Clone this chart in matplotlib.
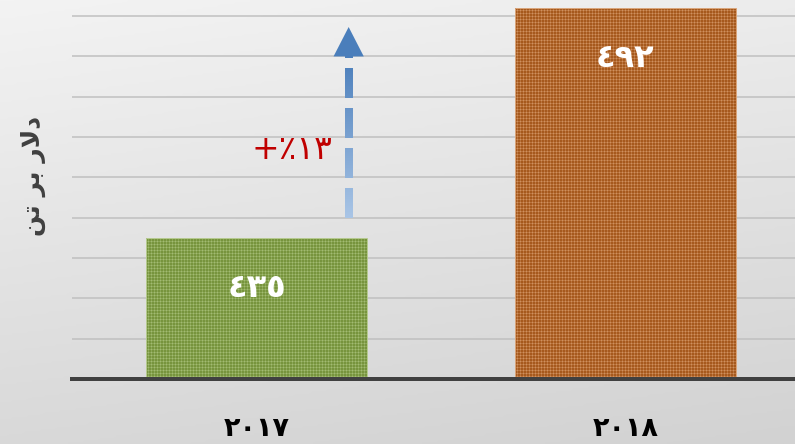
import numpy as np
import matplotlib
matplotlib.use("Agg")
import matplotlib.pyplot as plt
from matplotlib.path import Path
from matplotlib.patches import PathPatch, Polygon
from matplotlib.colors import LinearSegmentedColormap

plt.rcParams['font.family'] = ['DejaVu Sans']
plt.rcParams['hatch.linewidth'] = 0.5

years = [2017, 2018]
prices = [435, 492]
bar_colors = ['#77943d', '#a6591d']
dot_colors = ['#a2bb72', '#cf905e']
rim_colors = ['#b5c98f', '#d8a47a']
y_min, y_max, y_step = 400, 494, 10
arrow_from, arrow_to = 440, 487.3
arrow_x = 0.25

fa = str.maketrans('0123456789', '٠١٢٣٤٥٦٧٨٩')

def fa_num(v):
    return str(v).translate(fa)

# matplotlib does no arabic shaping, so the title is given shaped and in visual order
y_title = '\ufee6\ufe97 \ufeae\ufe91 \ufead\ufefb\ufea9'
growth = round((prices[1] - prices[0]) / prices[0] * 100)
growth_label = '+٪' + fa_num(growth)

fig = plt.figure(figsize=(795 / 72, 444 / 72), dpi=72)

# gray gradient background
bg = fig.add_axes([0, 0, 1, 1], zorder=-10)
gy, gx = np.mgrid[0:1:200j, 0:1:200j]
bg_cmap = LinearSegmentedColormap.from_list('bg', ['#f3f3f3', '#d2d2d2'])
bg.imshow(0.8 * gy + 0.2 * gx, cmap=bg_cmap, aspect='auto', extent=(0, 1, 0, 1))
bg.axis('off')

ax = fig.add_axes([72 / 795, 65 / 444, 1 - 72 / 795, 379 / 444])
ax.set_facecolor('none')
x = np.arange(len(years))
ax.bar(x, prices, width=0.6, color=bar_colors, edgecolor='none', zorder=2)
ax.bar(x, prices, width=0.6, color='none', edgecolor=dot_colors, hatch='++++',
       linewidth=0, zorder=3)
ax.bar(x, prices, width=0.6, color='none', edgecolor=rim_colors, linewidth=1, zorder=4)

for i, p in enumerate(prices):
    ax.text(i, p - 12.5, fa_num(p), ha='center', va='center', color='white',
            fontsize=32, fontweight='bold', zorder=6)

# dashed arrow with blue gradient
head_base = arrow_to - 7.3
shaft_w = 0.022
dash, gap = 7.4, 2.5
verts, codes = [], []
y0 = arrow_from
while y0 < head_base:
    y1 = min(y0 + dash, head_base)
    verts += [(arrow_x - shaft_w / 2, y0), (arrow_x + shaft_w / 2, y0),
              (arrow_x + shaft_w / 2, y1), (arrow_x - shaft_w / 2, y1), (0, 0)]
    codes += [Path.MOVETO, Path.LINETO, Path.LINETO, Path.LINETO, Path.CLOSEPOLY]
    y0 = y1 + gap
clip = PathPatch(Path(verts, codes), transform=ax.transData, facecolor='none',
                 edgecolor='none')
ax.add_patch(clip)
blue_cmap = LinearSegmentedColormap.from_list('blue', ['#a9c5e6', '#4a7ebb'])
im = ax.imshow(np.linspace(0, 1, 100).reshape(-1, 1), cmap=blue_cmap, origin='lower',
               aspect='auto', zorder=5,
               extent=(arrow_x - shaft_w, arrow_x + shaft_w, arrow_from, head_base))
im.set_clip_path(clip)
ax.add_patch(Polygon([(arrow_x - 0.041, head_base), (arrow_x + 0.041, head_base),
                      (arrow_x, arrow_to)], closed=True, facecolor='#4a7ebb',
                     edgecolor='none', zorder=5))

ax.text(0.095, 457, growth_label, ha='center', va='center', color='#c00000',
        fontsize=33, zorder=6)

ax.set_xticks(x, [fa_num(y) for y in years], fontsize=27, fontweight='bold')
ax.set_yticks(np.arange(y_min, y_max, y_step), [])
ax.tick_params(axis='x', length=0, pad=37)
ax.tick_params(axis='y', length=0)
ax.grid(axis='y', color='#bfbfbf', linewidth=1.5, zorder=0)
ax.set_axisbelow(True)
for s in ax.spines.values():
    s.set_visible(False)
ax.axhline(y_min, color='#404040', linewidth=4, zorder=7, clip_on=False)
ax.set_xlim(-0.5, 1.46)
ax.set_ylim(y_min, y_max)

fig.text(33 / 795, 1 - 176 / 444, y_title, rotation=90, fontsize=25, fontweight='bold',
         color='#404040', ha='center', va='center')

fig.savefig('out.png', dpi=72)
